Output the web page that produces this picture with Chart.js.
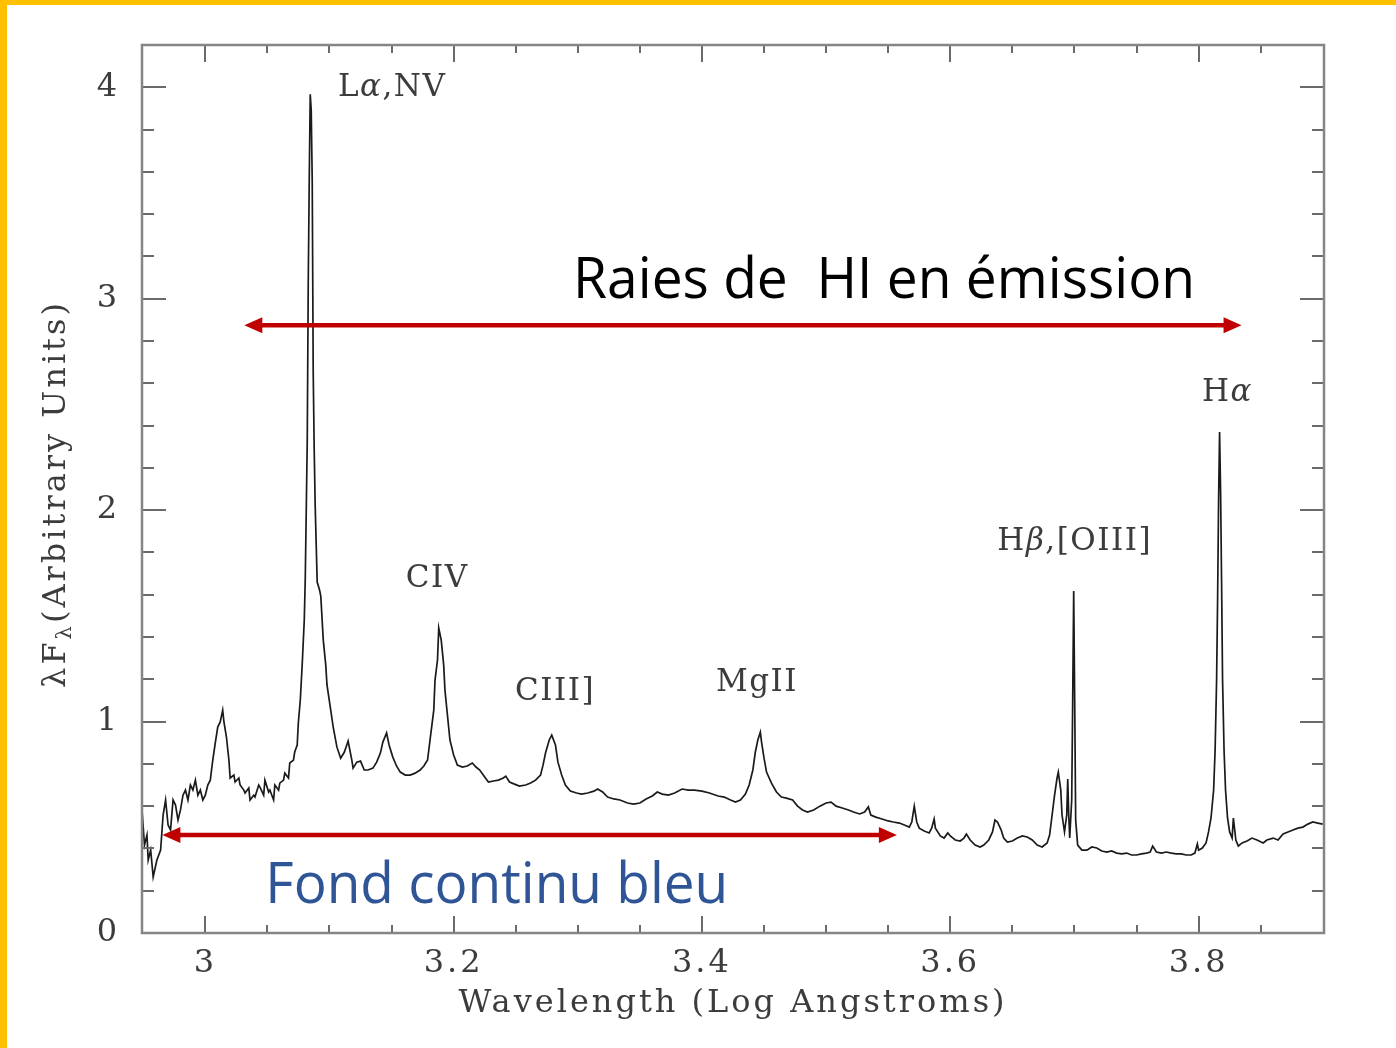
<!DOCTYPE html>
<html>
<head>
<meta charset="utf-8">
<script src="https://cdn.jsdelivr.net/npm/chart.js@4.4.1/dist/chart.umd.min.js"></script>
<style>
  html, body { margin: 0; padding: 0; background: #fff; }
  #wrap { width: 1396px; height: 1048px; }
</style>
</head>
<body>
<div id="wrap"><canvas id="spectrum" width="1396" height="1048"></canvas></div>
<script>
// Quasar composite spectrum
const logWave = [
  2.949, 2.951, 2.953, 2.954, 2.956, 2.958, 2.961, 2.964, 2.966, 2.968,
  2.970, 2.972, 2.974, 2.976, 2.978, 2.980, 2.982, 2.984, 2.986, 2.988,
  2.990, 2.992, 2.994, 2.996, 2.998, 3.000, 3.002, 3.004, 3.006, 3.008,
  3.010, 3.012, 3.014, 3.015, 3.017, 3.019, 3.020, 3.023, 3.024, 3.027,
  3.028, 3.031, 3.032, 3.035, 3.036, 3.039, 3.040, 3.043, 3.044, 3.047,
  3.048, 3.051, 3.052, 3.055, 3.056, 3.059, 3.060, 3.063, 3.064, 3.067,
  3.068, 3.071, 3.072, 3.074, 3.0749, 3.0765, 3.0781, 3.0797, 3.0805, 3.0813,
  3.0821, 3.0829, 3.0837, 3.0845, 3.0853, 3.0861, 3.0869, 3.0877, 3.0885, 3.0901,
  3.092, 3.093, 3.095, 3.097, 3.098, 3.101, 3.103, 3.106, 3.109, 3.112,
  3.115, 3.118, 3.119, 3.122, 3.125, 3.128, 3.131, 3.135, 3.138, 3.141,
  3.143, 3.146, 3.148, 3.151, 3.154, 3.157, 3.161, 3.165, 3.169, 3.173,
  3.176, 3.179, 3.181, 3.184, 3.185, 3.187, 3.188, 3.190, 3.192, 3.193,
  3.195, 3.197, 3.200, 3.203, 3.207, 3.211, 3.215, 3.218, 3.221, 3.225,
  3.228, 3.232, 3.236, 3.240, 3.242, 3.245, 3.249, 3.253, 3.258, 3.262,
  3.266, 3.270, 3.272, 3.274, 3.277, 3.279, 3.282, 3.284, 3.287, 3.290,
  3.294, 3.299, 3.303, 3.308, 3.313, 3.316, 3.320, 3.324, 3.329, 3.334,
  3.340, 3.345, 3.350, 3.355, 3.360, 3.364, 3.368, 3.373, 3.378, 3.384,
  3.389, 3.394, 3.400, 3.406, 3.413, 3.418, 3.423, 3.427, 3.431, 3.435,
  3.438, 3.441, 3.443, 3.445, 3.447, 3.448, 3.450, 3.452, 3.456, 3.460,
  3.464, 3.468, 3.473, 3.477, 3.481, 3.485, 3.490, 3.495, 3.500, 3.504,
  3.508, 3.513, 3.518, 3.522, 3.527, 3.531, 3.534, 3.536, 3.540, 3.545,
  3.550, 3.554, 3.559, 3.563, 3.567, 3.569, 3.571, 3.573, 3.575, 3.579,
  3.583, 3.585, 3.587, 3.588, 3.592, 3.595, 3.598, 3.600, 3.604, 3.608,
  3.611, 3.613, 3.616, 3.620, 3.624, 3.627, 3.631, 3.634, 3.636, 3.638,
  3.641, 3.643, 3.646, 3.650, 3.654, 3.658, 3.662, 3.666, 3.670, 3.674,
  3.678, 3.680, 3.682, 3.684, 3.686, 3.687, 3.689, 3.690, 3.692, 3.6938,
  3.6946, 3.6954, 3.6962, 3.6978, 3.6986, 3.6994, 3.7002, 3.7010, 3.7026, 3.706,
  3.710, 3.714, 3.718, 3.722, 3.726, 3.730, 3.734, 3.738, 3.742, 3.746,
  3.750, 3.754, 3.758, 3.761, 3.763, 3.766, 3.770, 3.774, 3.778, 3.782,
  3.786, 3.790, 3.794, 3.797, 3.799, 3.800, 3.803, 3.806, 3.808, 3.810,
  3.8121, 3.8133, 3.8145, 3.8153, 3.8161, 3.8169, 3.8177, 3.8185, 3.8193, 3.8205,
  3.8217, 3.8233, 3.825, 3.827, 3.828, 3.830, 3.832, 3.835, 3.839, 3.843,
  3.847, 3.852, 3.855, 3.860, 3.864, 3.868, 3.872, 3.876, 3.880, 3.884,
  3.888, 3.892, 3.896, 3.900
];
const flux = [
  0.582, 0.416, 0.463, 0.345, 0.392, 0.265, 0.345, 0.392, 0.558, 0.629,
  0.511, 0.487, 0.629, 0.605, 0.534, 0.582, 0.652, 0.676, 0.629, 0.700,
  0.676, 0.723, 0.652, 0.676, 0.629, 0.652, 0.700, 0.723, 0.818, 0.898,
  0.974, 0.998, 1.054, 0.998, 0.927, 0.818, 0.733, 0.747, 0.714, 0.733,
  0.700, 0.676, 0.662, 0.686, 0.629, 0.652, 0.643, 0.700, 0.690, 0.652,
  0.723, 0.667, 0.676, 0.629, 0.700, 0.676, 0.709, 0.723, 0.756, 0.733,
  0.804, 0.818, 0.856, 0.889, 0.993, 1.102, 1.277, 1.480, 1.678, 2.000,
  2.331, 3.073, 3.560, 3.967, 3.891, 3.560, 2.652, 2.284, 2.019, 1.660,
  1.622, 1.593, 1.385, 1.267, 1.173, 1.054, 0.974, 0.879, 0.827, 0.856,
  0.908, 0.818, 0.780, 0.808, 0.813, 0.771, 0.771, 0.780, 0.808, 0.851,
  0.903, 0.946, 0.889, 0.832, 0.790, 0.761, 0.747, 0.747, 0.756, 0.771,
  0.790, 0.818, 0.913, 1.054, 1.196, 1.291, 1.442, 1.385, 1.267, 1.149,
  1.031, 0.913, 0.842, 0.794, 0.785, 0.790, 0.804, 0.785, 0.771, 0.738,
  0.714, 0.719, 0.723, 0.733, 0.742, 0.714, 0.704, 0.695, 0.700, 0.709,
  0.723, 0.747, 0.794, 0.851, 0.913, 0.936, 0.889, 0.808, 0.747, 0.700,
  0.671, 0.662, 0.657, 0.662, 0.671, 0.681, 0.667, 0.643, 0.634, 0.629,
  0.615, 0.610, 0.615, 0.634, 0.648, 0.667, 0.657, 0.652, 0.662, 0.681,
  0.676, 0.676, 0.671, 0.662, 0.648, 0.643, 0.629, 0.619, 0.629, 0.657,
  0.700, 0.771, 0.856, 0.913, 0.950, 0.903, 0.827, 0.761, 0.709, 0.667,
  0.643, 0.638, 0.629, 0.600, 0.582, 0.572, 0.582, 0.600, 0.615, 0.619,
  0.600, 0.591, 0.582, 0.572, 0.563, 0.572, 0.596, 0.558, 0.548, 0.539,
  0.530, 0.525, 0.520, 0.511, 0.501, 0.525, 0.600, 0.525, 0.496, 0.482,
  0.473, 0.496, 0.539, 0.496, 0.459, 0.449, 0.473, 0.459, 0.440, 0.435,
  0.449, 0.468, 0.440, 0.416, 0.407, 0.416, 0.440, 0.478, 0.534, 0.525,
  0.487, 0.449, 0.430, 0.435, 0.449, 0.459, 0.454, 0.440, 0.416, 0.407,
  0.426, 0.463, 0.558, 0.652, 0.733, 0.761, 0.676, 0.558, 0.478, 0.558,
  0.728, 0.558, 0.449, 0.629, 1.102, 1.617, 1.102, 0.534, 0.416, 0.392,
  0.392, 0.407, 0.402, 0.388, 0.383, 0.388, 0.378, 0.374, 0.378, 0.369,
  0.369, 0.374, 0.378, 0.383, 0.411, 0.383, 0.378, 0.383, 0.378, 0.374,
  0.374, 0.369, 0.369, 0.378, 0.421, 0.392, 0.402, 0.426, 0.478, 0.544,
  0.676, 0.865, 1.196, 1.574, 2.047, 2.369, 2.095, 1.669, 1.196, 0.865,
  0.676, 0.544, 0.478, 0.449, 0.544, 0.440, 0.411, 0.426, 0.435, 0.449,
  0.440, 0.426, 0.440, 0.449, 0.440, 0.468, 0.478, 0.487, 0.496, 0.501,
  0.515, 0.525, 0.520, 0.515
];
const xTickValues = [3, 3.2, 3.4, 3.6, 3.8];
const yTickValues = [0, 1, 2, 3, 4];

// emission line names: [text, italic?] pieces
const lineNames = [
  [['L'], ['α', true], [',NV']],
  [['CIV']],
  [['CIII]']],
  [['MgII']],
  [['H'], ['β', true], [',[OIII]']],
  [['H'], ['α', true]]
];
const lineNameAt = [[3.1505, 3.995], [3.1867, 1.674], [3.2817, 1.139], [3.4443, 1.182], [3.7002, 1.849], [3.8233, 2.553]];

const serif = "'DejaVu Serif', serif";
const inkColor = '#3c3c3c';
const frameColor = '#858585';

function drawPieces(ctx, pieces, cx, cy, size) {
    ctx.textBaseline = 'middle';
    ctx.textAlign = 'left';
    let total = 0;
    pieces.forEach(p => {
        ctx.font = (p[1] ? 'italic ' : '') + size + 'px ' + serif;
        total += ctx.measureText(p[0]).width;
    });
    let x = cx - total / 2;
    pieces.forEach(p => {
        ctx.font = (p[1] ? 'italic ' : '') + size + 'px ' + serif;
        ctx.fillText(p[0], x, cy);
        x += ctx.measureText(p[0]).width;
    });
}

function drawArrow(ctx, x1, x2, y, color) {
    const head = 18, half = 8;
    ctx.save();
    ctx.strokeStyle = color;
    ctx.fillStyle = color;
    ctx.lineWidth = 4.5;
    ctx.beginPath();
    ctx.moveTo(x1 + head - 2, y);
    ctx.lineTo(x2 - head + 2, y);
    ctx.stroke();
    ctx.beginPath();
    ctx.moveTo(x1, y);
    ctx.lineTo(x1 + head, y - half);
    ctx.lineTo(x1 + head, y + half);
    ctx.closePath();
    ctx.fill();
    ctx.beginPath();
    ctx.moveTo(x2, y);
    ctx.lineTo(x2 - head, y - half);
    ctx.lineTo(x2 - head, y + half);
    ctx.closePath();
    ctx.fill();
    ctx.restore();
}

function drawFitText(ctx, text, x, baseline, width, size, color) {
    ctx.save();
    ctx.font = size + "px 'Open Sans', sans-serif";
    ctx.letterSpacing = '0px';
    ctx.textBaseline = 'alphabetic';
    ctx.textAlign = 'left';
    ctx.fillStyle = color;
    const w = ctx.measureText(text).width;
    ctx.translate(x, baseline);
    ctx.scale(width / w, 1);
    ctx.fillText(text, 0, 0);
    ctx.restore();
}

const decor = {
    id: 'decor',
    beforeDraw(chart) {
        const { ctx, width, height } = chart;
        ctx.save();
        ctx.fillStyle = '#fff';
        ctx.fillRect(0, 0, width, height);
        ctx.fillStyle = '#FFC000';
        ctx.fillRect(0, 0, 7, height);
        ctx.fillRect(0, 0, width, 5);
        ctx.restore();
        ctx.letterSpacing = '3px';
    },
    afterDraw(chart) {
        const { ctx, chartArea: a } = chart;
        const xs = chart.scales.x, ys = chart.scales.y;
        ctx.save();

        // mirrored inner ticks on all four sides
        ctx.strokeStyle = '#6a6a6a';
        ctx.lineWidth = 2;
        ctx.beginPath();
        for (let k = 59; k <= 78; k++) {
            const v = k * 0.05;
            const px = Math.round(xs.getPixelForValue(v));
            if (px <= a.left + 2 || px >= a.right - 2) continue;
            const len = (k % 4 === 0) ? 17 : 8;
            ctx.moveTo(px, a.bottom); ctx.lineTo(px, a.bottom - len);
            ctx.moveTo(px, a.top); ctx.lineTo(px, a.top + len);
        }
        for (let k = 0; k <= 21; k++) {
            const v = k * 0.2;
            const py = Math.round(ys.getPixelForValue(v));
            if (py <= a.top + 2 || py >= a.bottom - 1) {
                if (k !== 0) continue;
            }
            const len = (k % 5 === 0) ? 24 : 12;
            ctx.moveTo(a.left, py); ctx.lineTo(a.left + len, py);
            ctx.moveTo(a.right, py); ctx.lineTo(a.right - len, py);
        }
        ctx.stroke();

        // frame
        ctx.strokeStyle = frameColor;
        ctx.lineWidth = 2.5;
        ctx.strokeRect(a.left, a.top, a.right - a.left, a.bottom - a.top);

        // emission line names
        ctx.fillStyle = inkColor;
        ctx.letterSpacing = '1.5px';
        lineNames.forEach((pieces, i) => {
            const [lx, ly] = lineNameAt[i];
            drawPieces(ctx, pieces, xs.getPixelForValue(lx), ys.getPixelForValue(ly), 31);
        });

        // y axis title with subscript lambda
        ctx.save();
        ctx.translate(a.left - 85, (a.top + a.bottom) / 2 + 5);
        ctx.rotate(-Math.PI / 2);
        ctx.textBaseline = 'middle';
        ctx.textAlign = 'left';
        ctx.letterSpacing = '3px';
        const parts = [['λF', 32, 0], ['λ', 21, 9], ['(Arbitrary Units)', 32, 0]];
        let total = 0;
        parts.forEach(p => { ctx.font = p[1] + 'px ' + serif; total += ctx.measureText(p[0]).width; });
        let tx = -total / 2;
        parts.forEach(p => {
            ctx.font = p[1] + 'px ' + serif;
            ctx.fillText(p[0], tx, p[2]);
            tx += ctx.measureText(p[0]).width;
        });
        ctx.restore();

        // annotation arrows and captions
        drawArrow(ctx, xs.getPixelForValue(3.0314), xs.getPixelForValue(3.8346), ys.getPixelForValue(2.875), '#C00000');
        drawArrow(ctx, xs.getPixelForValue(2.9654), xs.getPixelForValue(3.557), ys.getPixelForValue(0.463), '#C00000');
        drawFitText(ctx, 'Raies de  HI en émission', xs.getPixelForValue(3.2962), ys.getPixelForValue(3.002), 622, 56, '#000');
        drawFitText(ctx, 'Fond continu bleu', xs.getPixelForValue(3.0483), ys.getPixelForValue(0.142), 463, 56, '#2F5597');

        ctx.restore();
    }
};

const points = logWave.map((x, i) => ({ x: x, y: flux[i] }));

new Chart(document.getElementById('spectrum').getContext('2d'), {
    type: 'line',
    data: {
        datasets: [{
            data: points,
            borderColor: '#1a1a1a',
            borderWidth: 1.7,
            pointRadius: 0,
            tension: 0,
            fill: false
        }]
    },
    options: {
        responsive: false,
        animation: false,
        layout: { padding: { top: 45, right: 72, left: 0, bottom: 0 } },
        plugins: { legend: { display: false }, tooltip: { enabled: false } },
        scales: {
            x: {
                type: 'linear',
                min: 2.949,
                max: 3.901,
                grid: { display: false, drawTicks: false },
                border: { display: false },
                afterBuildTicks: s => { s.ticks = xTickValues.map(v => ({ value: v })); },
                afterFit: s => { s.height = 115; },
                ticks: {
                    padding: 11,
                    color: inkColor,
                    autoSkip: false,
                    maxRotation: 0,
                    font: { family: serif, size: 32 },
                    callback: v => String(v)
                },
                title: {
                    display: true,
                    text: 'Wavelength (Log Angstroms)',
                    color: inkColor,
                    font: { family: serif, size: 32 },
                    padding: { top: 0, bottom: 25 }
                }
            },
            y: {
                min: 0,
                max: 4.2,
                grid: { display: false, drawTicks: false },
                border: { display: false },
                afterBuildTicks: s => { s.ticks = yTickValues.map(v => ({ value: v })); },
                afterFit: s => { s.width = 142; },
                ticks: {
                    padding: 22,
                    color: inkColor,
                    font: { family: serif, size: 32 },
                    callback: v => String(v)
                }
            }
        }
    },
    plugins: [decor]
});
</script>
</body>
</html>
